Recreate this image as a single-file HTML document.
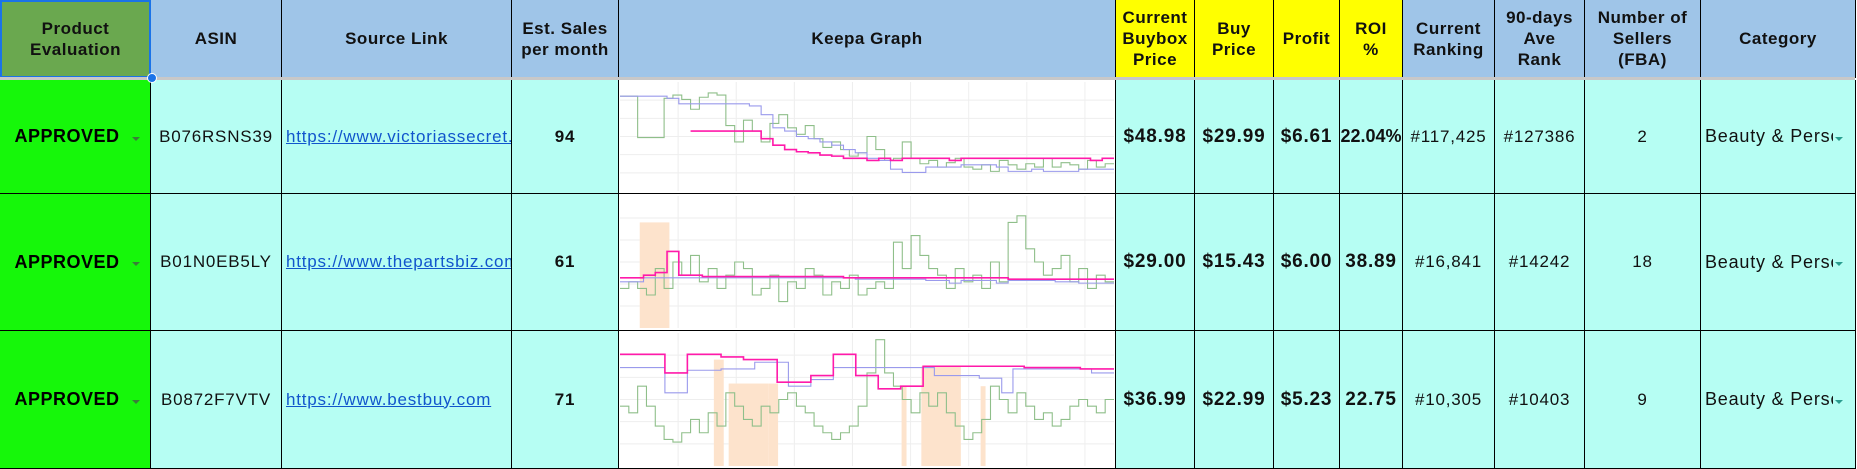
<!DOCTYPE html>
<html><head><meta charset="utf-8">
<style>
body{margin:0;width:1857px;height:469px;background:#fff;font-family:"Liberation Sans",sans-serif;position:relative;overflow:hidden}
.c{position:absolute;box-sizing:border-box;border-right:1px solid #000;border-bottom:1px solid #000;display:flex;align-items:center;justify-content:center;text-align:center;overflow:hidden;white-space:nowrap}
.h{background:#9fc5e8;font-weight:bold;font-size:17px;line-height:21px;color:#111;letter-spacing:0.5px}
.y{background:#ffff00}
.b{background:#b6fef3;font-size:17px;color:#111;letter-spacing:0.8px}
.bold{font-weight:bold}
.g{background:#16f70a;font-weight:bold;font-size:18px;letter-spacing:0.5px}
a{color:#1155cc;text-decoration:underline}
.dd{position:absolute;width:0;height:0;border-left:4px solid transparent;border-right:4px solid transparent;border-top:4px solid}
</style></head><body>
<div id="grid"></div>
<div style="position:absolute;left:0;top:77px;width:1855px;height:3px;background:#c8c8c8"></div>
<svg id="charts" width="1857" height="469" style="position:absolute;left:0;top:0;pointer-events:none"></svg>
<script>
const cols=[0,151,282,512,619,1116,1195,1274,1340,1403,1495,1585,1701,1856];
const headers=["Product<br>Evaluation","ASIN","Source Link","Est. Sales<br>per month","Keepa Graph","Current<br>Buybox<br>Price","Buy<br>Price","Profit","ROI<br>%","Current<br>Ranking","90-days<br>Ave<br>Rank","Number of<br>Sellers<br>(FBA)","Category"];
const headerNames=["product-evaluation-header","asin-header","source-link-header","est-sales-header","keepa-graph-header","buybox-price-header","buy-price-header","profit-header","roi-header","current-ranking-header","avg-rank-header","sellers-header","category-header"];
const rowsY=[[80,194],[194,331],[331,469]];
const asins=["B076RSNS39","B01N0EB5LY","B0872F7VTV"];
const links=["https://www.victoriassecret.com","https://www.thepartsbiz.com","https://www.bestbuy.com"];
const sales=["94","61","71"];
const buybox=["$48.98","$29.00","$36.99"];
const buy=["$29.99","$15.43","$22.99"];
const profit=["$6.61","$6.00","$5.23"];
const roi=["22.04%","38.89","22.75"];
const rank=["#117,425","#16,841","#10,305"];
const avgRank=["#127386","#14242","#10403"];
const sellers=["2","18","9"];
const grid=document.getElementById('grid');
function cell(x0,x1,y0,y1,cls,html,name,inter){
  const d=document.createElement('div');
  d.className='c '+cls;
  d.style.cssText=`left:${x0}px;top:${y0}px;width:${x1-x0}px;height:${y1-y0}px`;
  d.innerHTML=html;
  
  
  grid.appendChild(d);return d;
}
for(let i=0;i<13;i++){
  const cls='h'+((i>=5&&i<=8)?' y':'');
  const d=cell(cols[i],cols[i+1],0,78,cls,headers[i],headerNames[i],true);
  if(i===0){d.style.background='#6aa84f';d.style.border='2px solid #1a73e8';}
}
rowsY.forEach((r,k)=>{
  const [y0,y1]=r;
  cell(cols[0],cols[1],y0,y1,'g','<span style="margin-right:16px">APPROVED</span><span class="dd" style="right:10px;top:50%;border-top-color:#3a7d3a"></span>','evaluation-dropdown',true);
  cell(cols[1],cols[2],y0,y1,'b',asins[k],'asin-cell',true);
  const l=cell(cols[2],cols[3],y0,y1,'b','<a>'+links[k]+'</a>','source-link-cell',true);
  l.style.justifyContent='flex-start';l.style.paddingLeft='4px';
  cell(cols[3],cols[4],y0,y1,'b bold',sales[k],'est-sales-cell',true);
  const kg=cell(cols[4],cols[5],y0,y1,'b','','keepa-graph-cell',false);kg.style.background='#fff';
  cell(cols[5],cols[6],y0,y1,'b bold',buybox[k],'buybox-price-cell',true).style.fontSize='19px';
  cell(cols[6],cols[7],y0,y1,'b bold',buy[k],'buy-price-cell',true).style.fontSize='19px';
  cell(cols[7],cols[8],y0,y1,'b bold',profit[k],'profit-cell',true).style.fontSize='19px';
  const rc=cell(cols[8],cols[9],y0,y1,'b bold',roi[k],'roi-cell',true);rc.style.fontSize=k===0?'18px':'19px';if(k===0)rc.style.letterSpacing='0';
  cell(cols[9],cols[10],y0,y1,'b',rank[k],'current-ranking-cell',true);
  cell(cols[10],cols[11],y0,y1,'b',avgRank[k],'avg-rank-cell',true);
  cell(cols[11],cols[12],y0,y1,'b',sellers[k],'sellers-cell',true);
  const c=cell(cols[12],cols[13],y0,y1,'b','<span style="display:inline-block;width:128px;overflow:hidden">Beauty &amp; Personal</span><span class="dd" style="right:12px;top:50%;border-top-color:#2a9d8f"></span>','category-dropdown',true);
  c.style.justifyContent='flex-start';c.style.paddingLeft='4px';c.style.fontSize='18px';
});
const sel=document.createElement('div');


sel.style.cssText='position:absolute;left:147px;top:73px;width:8px;height:8px;border-radius:50%;background:#1a73e8;border:1px solid #fff;z-index:5';
grid.appendChild(sel);
</script>
<script>
// Keepa chart data (0-100 value scale, evenly spaced samples)
const green1=[87,87,49,49,49,85,88,84,75,86,90,88,60,45,65,55,45,62,70,58,52,60,48,40,45,38,32,35,50,38,28,30,45,30,25,28,22,26,30,22,20,24,18,28,24,20,25,22,30,22,26,24,20,28,22,25];
const blue1=[87,87,87,87,85,80,80,80,80,80,80,78,70,58,55,50,48,45,42,38,35,30,28,20,17,17,22,22,22,24,24,24,22,18,18,20,18,18,18,20,20,20];
const mag1=[null,null,null,null,null,null,55,55,55,55,55,55,48,42,38,36,35,33,32,30,30,28,30,28,30,30,30,30,28,30,30,30,30,30,30,30,30,30,30,30,28,30];
const orange1=[];
const green2=[30,35,30,25,45,30,50,40,55,35,45,30,40,50,45,25,30,40,20,35,30,45,40,25,35,30,40,25,30,35,30,65,45,70,55,45,40,30,45,35,40,30,50,35,80,85,60,50,40,45,55,35,45,30,40,35];
const blue2=[35,35,38,38,38,38,38,38,38,38,38,38,38,38,38,38,38,38,38,38,37,37,37,37,37,37,36,36,34,36,36,36,34,36,36,36,36,35,35,34,34,34];
const mag2=[38,38,40,42,58,40,40,39,39,39,39,39,39,39,39,39,39,39,39,38,38,38,38,38,38,38,38,38,38,38,38,38,38,37,37,37,37,37,37,37,37,37];
const orange2=[[0.04,0.10,80]];
const green3=[45,40,60,45,30,20,18,25,35,25,40,30,55,45,35,30,45,40,50,55,45,40,30,25,20,25,30,45,70,95,70,60,50,40,55,45,55,40,30,20,25,35,60,50,40,55,45,35,40,30,35,45,50,45,40,50];
const blue3=[74,74,74,74,55,55,72,72,72,73,73,73,78,78,78,60,60,65,65,74,74,74,74,74,74,74,74,74,68,68,68,68,66,66,55,73,73,73,73,73,73,73,70,70];
const mag3=[84,84,84,84,70,70,84,84,84,82,82,80,80,80,63,63,63,68,68,84,84,68,68,58,58,60,60,75,75,75,75,75,75,75,75,75,74,74,74,74,74,73,73,73];
const orange3=[[0.19,0.21,80],[0.22,0.30,62],[0.30,0.32,62],[0.57,0.58,60],[0.61,0.69,75],[0.73,0.74,60]];
const chartRows=[[green1,blue1,mag1,orange1],[green2,blue2,mag2,orange2],[green3,blue3,mag3,orange3]];
const svg=document.getElementById('charts');
const NS='http://www.w3.org/2000/svg';
const cx0=620,cx1=1114;
chartRows.forEach((set,k)=>{
  const y0=rowsY[k][0]+2,y1=rowsY[k][1]-3;
  const xs=f=>cx0+f*(cx1-cx0);
  const ys=v=>y1-(v/100)*(y1-y0);
  const g=document.createElementNS(NS,'g');
  
  
  svg.appendChild(g);
  for(let i=1;i<9;i++){const l=document.createElementNS(NS,'line');l.setAttribute('x1',xs(i/8.5));l.setAttribute('x2',xs(i/8.5));l.setAttribute('y1',y0);l.setAttribute('y2',y1);l.setAttribute('stroke','#eee');
    
    
    g.appendChild(l);}
  for(let i=1;i<6;i++){const l=document.createElementNS(NS,'line');const yy=y0+i*(y1-y0)/6;l.setAttribute('x1',cx0);l.setAttribute('x2',cx1);l.setAttribute('y1',yy);l.setAttribute('y2',yy);l.setAttribute('stroke','#eee');
    
    
    g.appendChild(l);}
  set[3].forEach(b=>{const r=document.createElementNS(NS,'rect');r.setAttribute('x',xs(b[0]));r.setAttribute('width',xs(b[1])-xs(b[0]));r.setAttribute('y',ys(b[2]));r.setAttribute('height',y1-ys(b[2]));r.setAttribute('fill','#fde3cc');
    
    
    g.appendChild(r);});
  const draw=(arr,color,w,name)=>{
    let d='',started=false;const n=arr.length;
    arr.forEach((v,i)=>{if(v===null){started=false;return;}
      const xa=xs(i/n),xb=xs((i+1)/n),yv=ys(v);
      d+=(started?'L':'M')+xa+' '+yv+'L'+xb+' '+yv;started=true;});
    const p=document.createElementNS(NS,'path');p.setAttribute('d',d);p.setAttribute('fill','none');p.setAttribute('stroke',color);p.setAttribute('stroke-width',w);
    
    
    g.appendChild(p);};
  draw(set[0],'#8fbf8a',1.1,'sales-rank-line');
  draw(set[1],'#9a9aec',1.1,'new-price-line');
  draw(set[2],'#ff1aaa',1.6,'buybox-line');
});
</script>
</body></html>
